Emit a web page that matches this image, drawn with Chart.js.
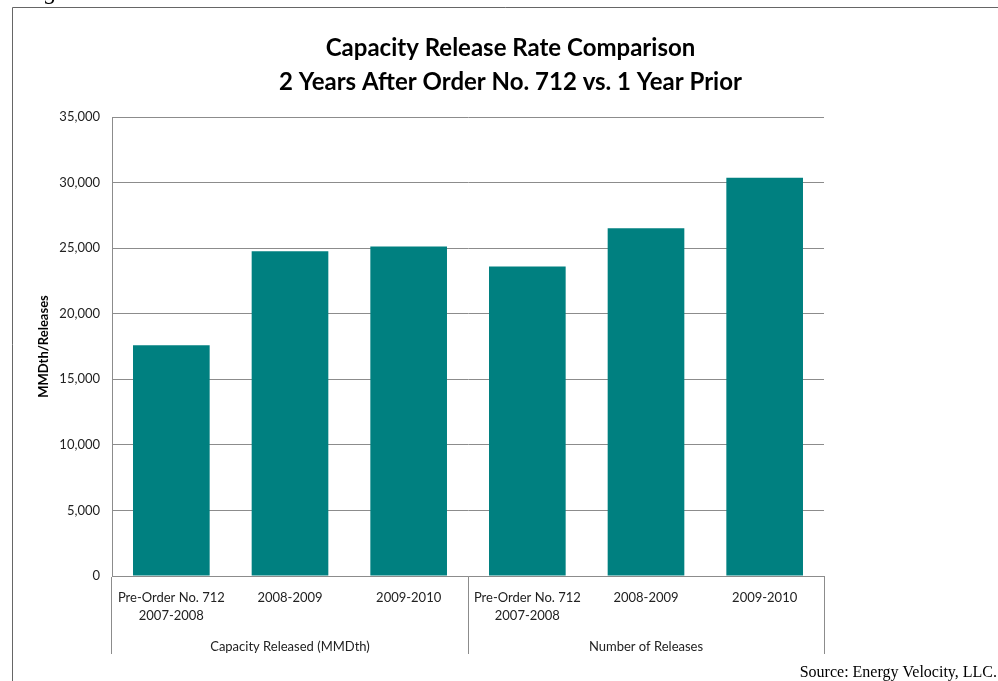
<!DOCTYPE html>
<html>
<head>
<meta charset="utf-8">
<script src="https://cdn.jsdelivr.net/npm/chart.js@4"></script>
<style>
  html, body { margin: 0; padding: 0; background: #fff; }
  #wrap { width: 998px; height: 681px; position: relative; }
</style>
</head>
<body>
<div id="wrap"><canvas id="graficoCapacidad"></canvas></div>
<script>
//Datos del grafico
const categorias = [['Pre-Order No. 712', '2007-2008'], '2008-2009', '2009-2010',
                    ['Pre-Order No. 712', '2007-2008'], '2008-2009', '2009-2010'];
const grupos = ['Capacity Released (MMDth)', 'Number of Releases'];
const valores = [17600, 24770, 25120, 23610, 26520, 30360];
const yTicks = [0, 5000, 10000, 15000, 20000, 25000, 30000, 35000];
const titulo = ['Capacity Release Rate Comparison', '2 Years After Order No. 712 vs. 1 Year Prior'];
const tituloEje = 'MMDth/Releases';
const fuente = 'Source: Energy Velocity, LLC.';

const gris = '#8c8c8c';
const fontCalibri = 'Lato';

//Marco exterior y texto de fuente
const marcoPlugin = {
    id: 'marco',
    beforeDraw(chart) {
        const ctx = chart.ctx;
        ctx.save();
        ctx.strokeStyle = '#666';
        ctx.lineWidth = 1;
        ctx.beginPath();
        ctx.moveTo(12.5, chart.height);
        ctx.lineTo(12.5, 7.5);
        ctx.lineTo(chart.width, 7.5);
        ctx.stroke();
        ctx.fillStyle = '#000';
        ctx.font = 'italic 24px "Liberation Serif"';
        ctx.textBaseline = 'alphabetic';
        ctx.fillText('g', 45, -1);
        ctx.restore();
    },
    afterDraw(chart) {
        const ctx = chart.ctx;
        ctx.save();
        ctx.fillStyle = '#000';
        ctx.font = '16px "Liberation Serif"';
        ctx.textAlign = 'right';
        ctx.textBaseline = 'middle';
        ctx.fillText(fuente, 997, 673);
        ctx.restore();
    }
};

const config = {
    type: 'bar',
    data: {
        labels: categorias,
        datasets: [{
            data: valores,
            backgroundColor: '#008080',
            barPercentage: 0.646,
            categoryPercentage: 1
        }]
    },
    options: {
        responsive: true,
        maintainAspectRatio: false,
        animation: false,
        layout: {
            padding: { left: 13, right: -10, top: 8, bottom: 25 }
        },
        plugins: {
            legend: { display: false },
            tooltip: { enabled: false },
            title: {
                display: true,
                text: titulo,
                color: '#000',
                font: { family: fontCalibri, size: 24, weight: 'bold', lineHeight: 1.417 },
                padding: { top: 23, bottom: 18 }
            }
        },
        scales: {
            x: {
                position: 'bottom',
                grid: {
                    offset: true,
                    drawOnChartArea: false,
                    drawTicks: true,
                    tickLength: 78,
                    color: c => (c.index === undefined || c.index % 3 === 0) ? gris : 'rgba(0,0,0,0)'
                },
                border: { display: true, color: gris },
                ticks: {
                    color: '#222',
                    padding: -65,
                    maxRotation: 0,
                    autoSkip: false,
                    font: { family: fontCalibri, size: 13, lineHeight: 1.4 }
                },
                afterFit: s => { s.height = 60; }
            },
            x2: {
                type: 'category',
                position: 'bottom',
                labels: grupos,
                offset: true,
                grid: { display: false, drawTicks: false },
                border: { display: false },
                ticks: {
                    color: '#222',
                    padding: 3,
                    maxRotation: 0,
                    font: { family: fontCalibri, size: 13, lineHeight: 1.2 }
                },
                afterFit: s => { s.height = 20; }
            },
            y: {
                min: 0,
                max: 35000,
                afterBuildTicks: s => { s.ticks = yTicks.map(v => ({ value: v })); },
                grid: { color: gris, drawTicks: false },
                border: { display: true, color: gris },
                ticks: {
                    color: '#222',
                    padding: 12,
                    font: { family: fontCalibri, size: 13 }
                },
                title: {
                    display: true,
                    text: tituloEje,
                    color: '#000',
                    font: { family: fontCalibri, size: 13, weight: 'bold' },
                    padding: { top: 23, bottom: 0 }
                },
                afterFit: s => { s.width = 99; }
            },
            yR: {
                position: 'right',
                display: true,
                grid: { display: false, drawTicks: false },
                border: { display: false },
                ticks: { display: false },
                afterFit: s => { s.width = 184; }
            }
        }
    },
    plugins: [marcoPlugin]
};

new Chart(document.querySelector('#graficoCapacidad'), config);
</script>
</body>
</html>
